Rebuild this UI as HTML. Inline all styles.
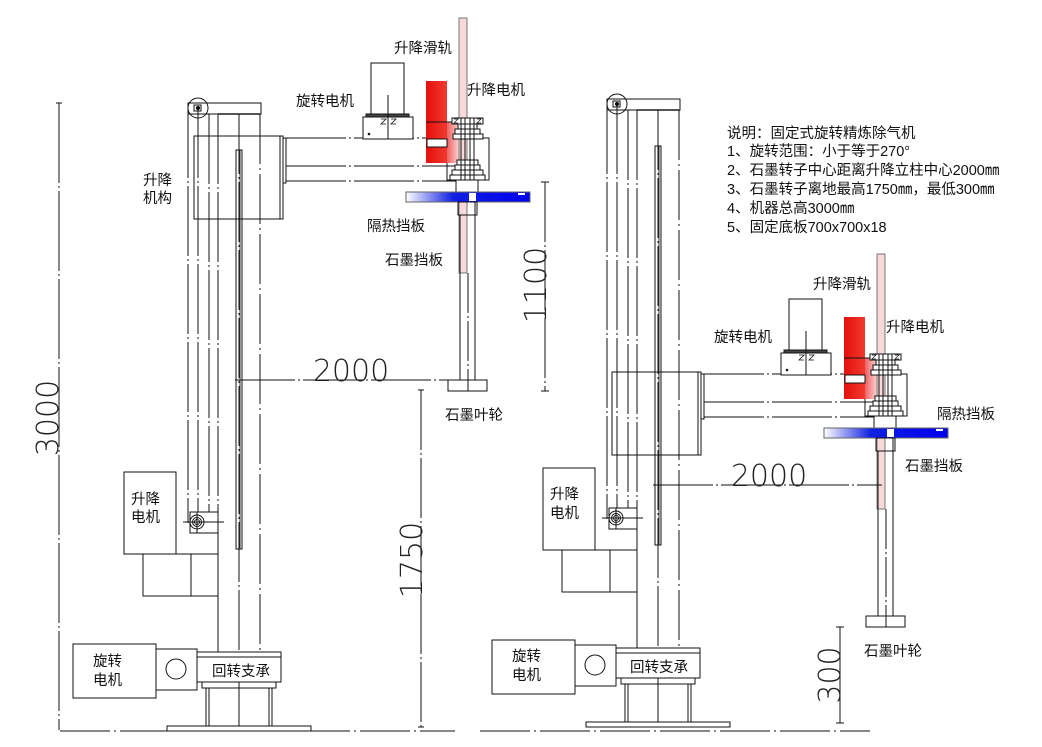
<!DOCTYPE html>
<html>
<head>
<meta charset="utf-8">
<style>
  html,body{margin:0;padding:0;background:#fff;}
  svg{display:block;}
  .lbl{font-family:"Liberation Sans","Noto Sans CJK SC",sans-serif;font-size:14.5px;fill:#111;}
  .dim{font-family:"DejaVu Sans","Liberation Sans",sans-serif;font-weight:200;font-size:30px;fill:#222;}
</style>
</head>
<body>
<svg width="1042" height="747" viewBox="0 0 1042 747" xmlns="http://www.w3.org/2000/svg">
<defs>
  <linearGradient id="blue" x1="0" x2="1" y1="0" y2="0">
    <stop offset="0" stop-color="#ffffff"/>
    <stop offset="0.38" stop-color="#1020e0"/>
    <stop offset="1" stop-color="#0000ee"/>
  </linearGradient>
  <linearGradient id="red" x1="0" x2="1" y1="0" y2="0">
    <stop offset="0" stop-color="#e4100c"/>
    <stop offset="1" stop-color="#f03a30"/>
  </linearGradient>
  <linearGradient id="pink" x1="0" x2="1" y1="0" y2="0">
    <stop offset="0" stop-color="#f06060"/>
    <stop offset="1" stop-color="#fde8e8"/>
  </linearGradient>

  <!-- Arm assembly (left-machine coordinates) -->
  <g id="arm" fill="none" stroke="#111" stroke-width="1">
    <!-- lifting housing -->
    <rect x="194" y="136" width="86" height="83"/>
    <rect x="280" y="136" width="3" height="83" fill="#fff"/>
    <rect x="283" y="138" width="3" height="45"/>
    <!-- arm lines -->
    <line x1="286" y1="138" x2="489" y2="138" stroke-dasharray="60 3 2 3"/>
    <line x1="286" y1="166" x2="456" y2="166" stroke-dasharray="60 3 2 3"/>
    <line x1="286" y1="181" x2="456" y2="181" stroke-dasharray="60 3 2 3"/>
    <!-- arm end box -->
    <rect x="447" y="138" width="42" height="42"/>
    <!-- rotation motor on arm -->
    <rect x="371" y="63" width="33" height="52" fill="#fff"/>
    <rect x="366" y="114" width="43" height="3" fill="#444"/>
    <rect x="363" y="117" width="50" height="22" fill="#fff"/>
    <line x1="388" y1="95" x2="388" y2="139"/>
    <path d="M381 119 h5 l-5 5 h5 M391 119 h5 l-5 5 h5" stroke-width="0.8"/>
    <circle cx="369" cy="134" r="0.8" fill="#111"/>
    <!-- red lifting motor -->
    <rect x="447" y="122" width="14" height="41" fill="url(#pink)" stroke="none"/>
    <rect x="426" y="81" width="21" height="82" fill="url(#red)" stroke="none"/>
    <rect x="427" y="139" width="20" height="8" fill="#fff"/>
    <line x1="426" y1="122" x2="456" y2="122"/>
    <!-- lifting rail -->
    <rect x="459" y="18" width="8" height="255" fill="#f7d9d9" stroke="#777"/>
    <!-- upper pulley stack -->
    <rect x="452" y="118" width="31" height="6" fill="#fff"/>
    <path d="M454 119 h4 l-4 4 h4 M477 119 h4 l-4 4 h4" stroke-width="0.7"/>
    <rect x="458" y="124" width="19" height="5" fill="#fff"/>
    <rect x="455" y="129" width="25" height="5" fill="#fff"/>
    <rect x="453" y="134" width="30" height="5" fill="#fff"/>
    <!-- lower pulley stack -->
    <rect x="457" y="160" width="21" height="5" fill="#fff"/>
    <rect x="455" y="165" width="25" height="5" fill="#fff"/>
    <rect x="452" y="170" width="31" height="5" fill="#fff"/>
    <rect x="450" y="175" width="35" height="5" fill="#fff"/>
    <!-- spindle lines -->
    <line x1="461" y1="118" x2="461" y2="192"/>
    <line x1="465" y1="118" x2="465" y2="192"/>
    <line x1="470" y1="118" x2="470" y2="192"/>
    <line x1="474" y1="118" x2="474" y2="192"/>
    <rect x="456" y="180" width="22" height="12" fill="#fff"/>
    <!-- heat shield (blue plate) -->
    <rect x="406" y="192" width="124" height="10" fill="url(#blue)" stroke="#666"/>
    <rect x="469" y="193" width="7" height="8" fill="#fff" stroke="none"/>
    <rect x="518" y="193" width="7" height="2" fill="#fff" stroke="none"/>
    <!-- collar under plate -->
    <rect x="458" y="202" width="19" height="13" fill="none"/>
    <!-- shaft -->
    <line x1="460" y1="215" x2="460" y2="380"/>
    <line x1="475" y1="202" x2="475" y2="380"/>
    <line x1="468" y1="273" x2="468" y2="391" stroke-dasharray="40 3 2 3"/>
    <!-- impeller -->
    <rect x="448" y="380" width="39" height="11" fill="#fff"/>
    <line x1="468" y1="380" x2="468" y2="391"/>
  </g>

  <!-- Column assembly (left-machine coordinates) -->
  <g id="col" fill="none" stroke="#111" stroke-width="1">
    <!-- top bar -->
    <rect x="188" y="103" width="73" height="11" fill="#fff"/>
    <line x1="218" y1="114" x2="261" y2="114" stroke="#555" stroke-width="2"/>
    <!-- vertical column lines -->
    <line x1="188" y1="108" x2="188" y2="523" stroke-dasharray="70 3 2 3"/>
    <line x1="198" y1="108" x2="198" y2="512" stroke-dasharray="70 3 2 3"/>
    <line x1="209" y1="114" x2="209" y2="512" stroke-dasharray="70 3 2 3"/>
    <line x1="218" y1="114" x2="218" y2="652" stroke-dasharray="70 3 2 3"/>
    <rect x="236" y="150" width="6" height="399"/>
    <line x1="240" y1="150" x2="240" y2="549" stroke="#333"/>
    <line x1="239" y1="114" x2="239" y2="731" stroke-dasharray="60 3 2 3"/>
    <line x1="260" y1="114" x2="260" y2="652" stroke-dasharray="50 4 2 4"/>
    <!-- top pulley -->
    <circle cx="198" cy="108" r="10" fill="none"/>
    <rect x="194" y="105" width="7" height="6"/>
    <circle cx="198" cy="108" r="1.6" fill="#111"/>
    <!-- lift motor -->
    <rect x="124" y="472" width="52" height="82" fill="#fff"/>
    <rect x="190" y="512" width="28" height="21" fill="#fff"/>
    <circle cx="197" cy="522" r="7"/>
    <circle cx="197" cy="522" r="4.5"/>
    <circle cx="197" cy="522" r="2.5"/>
    <line x1="183" y1="522" x2="224" y2="522"/>
    <line x1="197" y1="512" x2="197" y2="533"/>
    <line x1="176" y1="554" x2="218" y2="554"/>
    <line x1="218" y1="533" x2="218" y2="554"/>
    <rect x="143" y="554" width="75" height="42"/>
    <line x1="191" y1="554" x2="191" y2="596"/>
    <!-- slewing bearing -->
    <rect x="197" y="652" width="84" height="30" fill="#fff"/>
    <line x1="197" y1="657" x2="281" y2="657"/>
    <rect x="202" y="682" width="74" height="6" fill="#fff"/>
    <rect x="206" y="688" width="3" height="39"/>
    <rect x="269" y="688" width="3" height="39"/>
    <line x1="239" y1="682" x2="239" y2="727"/>
    <rect x="167" y="726" width="144" height="5" fill="#fff"/>
    <!-- rotation motor (base) -->
    <rect x="73" y="644" width="83" height="54" fill="#fff"/>
    <rect x="156" y="649" width="41" height="41" fill="#fff"/>
    <circle cx="176" cy="669" r="10"/>
  </g>
</defs>

<rect x="0" y="0" width="1042" height="747" fill="#fff"/>

<!-- Left machine -->
<use href="#col"/>
<use href="#arm"/>

<!-- Right machine -->
<use href="#col" transform="translate(419,-4)"/>
<use href="#arm" transform="translate(418,236)"/>

<!-- Dimensions -->
<g stroke="#111" stroke-width="1" fill="none">
  <!-- 3000 -->
  <line x1="59" y1="103" x2="59" y2="730" stroke-dasharray="80 3 2 3"/>
  <line x1="56" y1="103" x2="62" y2="103"/>
  <!-- left 2000 -->
  <line x1="235" y1="380" x2="448" y2="380" stroke-dasharray="60 3 2 3"/>
  <!-- 1100 -->
  <line x1="545" y1="182" x2="545" y2="391" stroke-dasharray="60 3 2 3"/>
  <line x1="541" y1="182" x2="549" y2="182"/>
  <line x1="541" y1="391" x2="549" y2="391"/>
  <!-- 1750 -->
  <line x1="421" y1="390" x2="421" y2="727" stroke-dasharray="60 3 2 3"/>
  <line x1="418" y1="390" x2="424" y2="390"/>
  <line x1="418" y1="727" x2="424" y2="727"/>
  <!-- ground left -->
  <line x1="60" y1="731" x2="455" y2="731" stroke-dasharray="50 4 2 4"/>
  <!-- right 2000 -->
  <line x1="653" y1="485" x2="882" y2="485" stroke-dasharray="60 3 2 3"/>
  <!-- 300 -->
  <line x1="840" y1="627" x2="840" y2="723"/>
  <line x1="836" y1="627" x2="844" y2="627"/>
  <line x1="836" y1="723" x2="844" y2="723"/>
  <!-- ground right -->
  <line x1="480" y1="731" x2="870" y2="731" stroke-dasharray="50 4 2 4"/>
</g>

<!-- Dimension texts -->
<text class="dim" text-anchor="middle" transform="translate(58,418) rotate(-90)">3000</text>
<text class="dim" text-anchor="middle" x="351" y="381">2000</text>
<text class="dim" text-anchor="middle" transform="translate(546,285) rotate(-90)">1100</text>
<text class="dim" text-anchor="middle" transform="translate(422,560) rotate(-90)">1750</text>
<text class="dim" text-anchor="middle" x="769" y="486">2000</text>
<text class="dim" text-anchor="middle" transform="translate(840,675) rotate(-90)">300</text>

<!-- Left labels -->
<text class="lbl" x="394" y="53">升降滑轨</text>
<text class="lbl" x="467" y="95">升降电机</text>
<text class="lbl" x="296" y="106">旋转电机</text>
<text class="lbl" x="143" y="185">升降</text>
<text class="lbl" x="143" y="203">机构</text>
<text class="lbl" x="367" y="231">隔热挡板</text>
<text class="lbl" x="385" y="265">石墨挡板</text>
<text class="lbl" x="445" y="420">石墨叶轮</text>
<text class="lbl" x="131" y="504">升降</text>
<text class="lbl" x="131" y="522">电机</text>
<text class="lbl" x="93" y="666">旋转</text>
<text class="lbl" x="93" y="685">电机</text>
<text class="lbl" x="212" y="676">回转支承</text>

<!-- Right labels -->
<text class="lbl" x="813" y="289">升降滑轨</text>
<text class="lbl" x="886" y="332">升降电机</text>
<text class="lbl" x="714" y="342">旋转电机</text>
<text class="lbl" x="937" y="419">隔热挡板</text>
<text class="lbl" x="905" y="471">石墨挡板</text>
<text class="lbl" x="864" y="656">石墨叶轮</text>
<text class="lbl" x="550" y="499">升降</text>
<text class="lbl" x="550" y="518">电机</text>
<text class="lbl" x="512" y="661">旋转</text>
<text class="lbl" x="512" y="680">电机</text>
<text class="lbl" x="630" y="672">回转支承</text>

<!-- Notes -->
<text class="lbl" x="727" y="138">说明：固定式旋转精炼除气机</text>
<text class="lbl" x="727" y="156">1、旋转范围：小于等于270°</text>
<text class="lbl" x="727" y="175">2、石墨转子中心距离升降立柱中心2000㎜</text>
<text class="lbl" x="727" y="194">3、石墨转子离地最高1750㎜，最低300㎜</text>
<text class="lbl" x="727" y="213">4、机器总高3000㎜</text>
<text class="lbl" x="727" y="232">5、固定底板700x700x18</text>
</svg>
</body>
</html>
